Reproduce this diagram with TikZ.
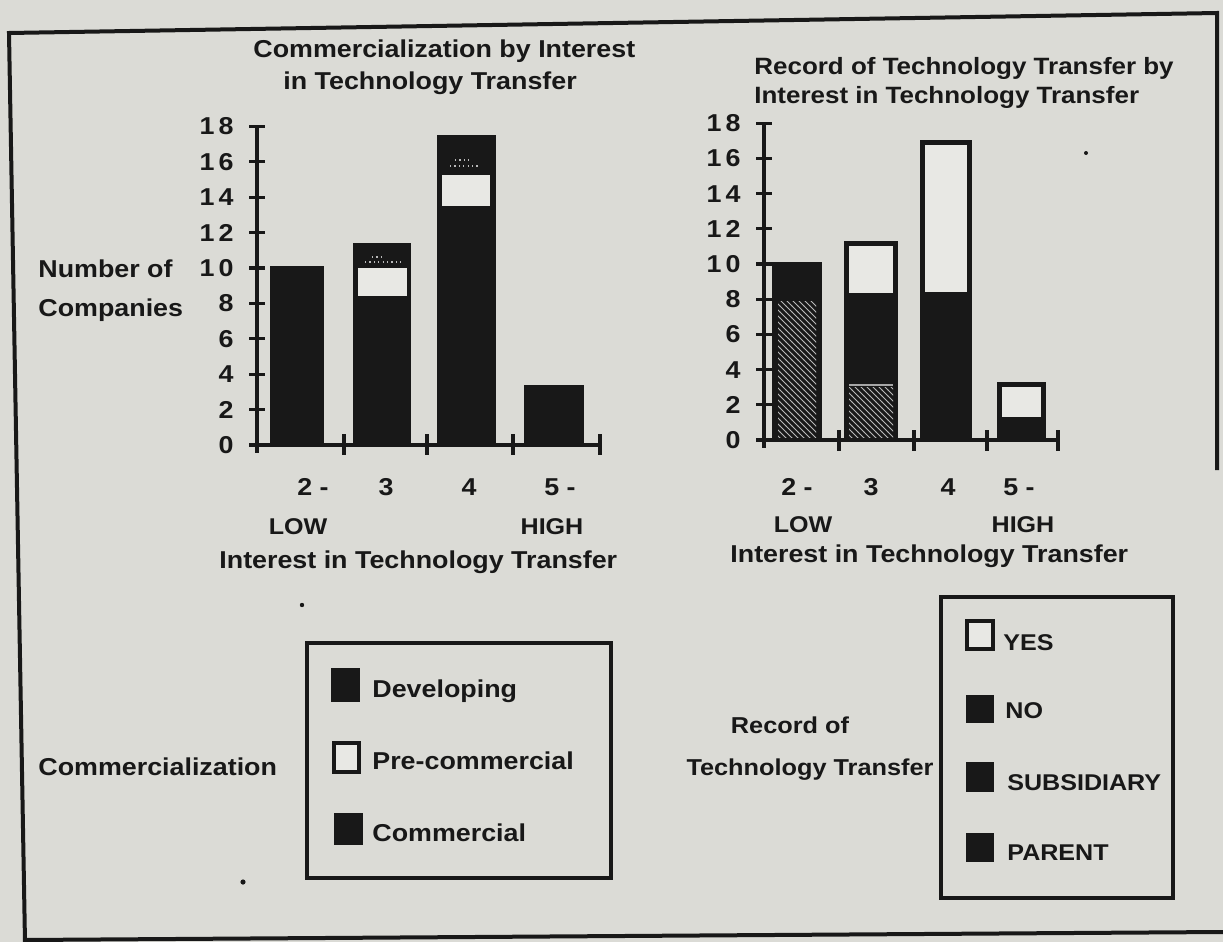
\documentclass[tikz,border=0pt]{standalone}
\usepackage{fontspec}
\setmainfont{Liberation Sans}[FakeStretch=1.1]
\usetikzlibrary{patterns}
\definecolor{paper}{RGB}{219,219,214}
\definecolor{ink}{RGB}{24,24,24}
\definecolor{blank}{RGB}{232,232,228}
\newcommand\twodig[2]{#1\kern2pt#2}
\begin{document}
\begin{tikzpicture}[x=0.5pt,y=-0.5pt,
  every node/.style={inner sep=0pt,text=ink,font=\fontsize{12.2}{14}\selectfont\bfseries},
  txt/.style={anchor=base west},
  ctxt/.style={anchor=base},
  rtxt/.style={anchor=base east},
  capsfont/.style={font=\fontsize{11.4}{13}\selectfont\bfseries},
  rtitlefont/.style={font=\fontsize{11.8}{13}\selectfont\bfseries},
  recfont/.style={font=\fontsize{11.5}{13}\selectfont\bfseries},
  axisline/.style={draw=ink,line width=2pt},
  tickline/.style={draw=ink,line width=1.6pt},
  barfill/.style={fill=ink},
  blankfill/.style={fill=blank},
  boxline/.style={draw=ink,line width=1.6pt},
  frameline/.style={draw=ink,line width=2pt},
  hatch/.style={pattern=north west lines,pattern color=gray!55},
  speck/.style={fill=ink}]
\fill[paper] (0,0) rectangle (1223,942);
\useasboundingbox (0,0) rectangle (1223,942);

% outer frame
\coordinate (ftl) at (9,33);
\coordinate (ftr) at (1217,13);
\coordinate (fre) at (1217,470);
\coordinate (fbl) at (25,942);
\coordinate (fbl2) at (25,940);
\coordinate (fbr) at (1223,932);
\draw[frameline] (fre) -- (ftr) -- (ftl) -- (fbl);
\draw[frameline] (fbl2) -- (fbr);

% ================= LEFT CHART =================
\node[txt] (lt1) at (253,57) {Commercialization by Interest};
\node[txt] (lt2) at (283,90) {in Technology Transfer};
\node[txt] (lnum) at (38,277) {Number of};
\node[txt] (lcomp) at (38,316) {Companies};

% bars
\fill[barfill] (270,266) rectangle (324,445);
\fill[barfill] (353,243) rectangle (411,445);
\fill[blankfill] (358,268) rectangle (407,296);
\draw[gray!55,line width=0.6pt,dash pattern=on 0.6pt off 1.6pt] (365,262) -- (403,262);
\draw[gray!55,line width=0.6pt,dash pattern=on 0.6pt off 1.6pt] (372,257) -- (382,257);
\fill[barfill] (437,135) rectangle (496,445);
\fill[blankfill] (442,175) rectangle (490,206);
\draw[gray!55,line width=0.6pt,dash pattern=on 0.6pt off 1.6pt] (450,166) -- (480,166);
\draw[gray!55,line width=0.6pt,dash pattern=on 0.6pt off 1.6pt] (455,160) -- (470,160);
\fill[barfill] (524,385) rectangle (584,445);

% axes
\draw[axisline] (257,126) -- (257,453);
\draw[axisline] (257,445) -- (600,445);
\foreach \v/\lab in {0/0,2/2,4/4,6/6,8/8,10/\twodig{1}{0},12/\twodig{1}{2},14/\twodig{1}{4},16/\twodig{1}{6},18/\twodig{1}{8}}{
  \pgfmathsetmacro\yy{445-17.7*\v}
  \draw[tickline] (249,\yy) -- (265,\yy);
  \node[rtxt] (ly\v) at (234,{\yy+8.5}) {\lab};
}
\foreach \xx in {344,427,513,600}{
  \draw[tickline] (\xx,434) -- (\xx,455);
}
\node[ctxt] (lx2) at (313,495) {2 -};
\node[ctxt] (lx3) at (386,495) {3};
\node[ctxt] (lx4) at (469,495) {4};
\node[ctxt] (lx5) at (560,495) {5 -};
\node[ctxt,capsfont] (llow) at (298,534) {LOW};
\node[ctxt,capsfont] (lhigh) at (552,534) {HIGH};
\node[txt] (lint) at (219,568) {Interest in Technology Transfer};

% ================= RIGHT CHART =================
\node[txt,rtitlefont] (rt1) at (754,75) {Record of Technology Transfer by};
\node[txt,rtitlefont] (rt2) at (754,104) {Interest in Technology Transfer};

% bar 2-
\fill[barfill] (772,262) rectangle (822,440);
\fill[hatch] (778,301) rectangle (816,437);
% bar 3
\fill[barfill] (844,241) rectangle (898,440);
\fill[blankfill] (849,246) rectangle (893,293);
\fill[hatch] (849,387) rectangle (893,437);
\draw[gray!70,line width=0.8pt] (849,385) -- (893,385);
% bar 4
\fill[barfill] (920,140) rectangle (972,440);
\fill[blankfill] (925,145) rectangle (967,292);
% bar 5-
\fill[barfill] (997,382) rectangle (1046,440);
\fill[blankfill] (1002,387) rectangle (1041,417);

% axes
\draw[axisline] (764,123) -- (764,448);
\draw[axisline] (764,440) -- (1058,440);
\foreach \v/\lab in {0/0,2/2,4/4,6/6,8/8,10/\twodig{1}{0},12/\twodig{1}{2},14/\twodig{1}{4},16/\twodig{1}{6},18/\twodig{1}{8}}{
  \pgfmathsetmacro\yy{440-17.6*\v}
  \draw[tickline] (756,\yy) -- (772,\yy);
  \node[rtxt] (ry\v) at (741,{\yy+8.5}) {\lab};
}
\foreach \xx in {839,914,987,1058}{
  \draw[tickline] (\xx,430) -- (\xx,451);
}
\node[ctxt] (rx2) at (797,495) {2 -};
\node[ctxt] (rx3) at (871,495) {3};
\node[ctxt] (rx4) at (948,495) {4};
\node[ctxt] (rx5) at (1019,495) {5 -};
\node[ctxt,capsfont] (rlow) at (803,532) {LOW};
\node[ctxt,capsfont] (rhigh) at (1023,532) {HIGH};
\node[txt] (rint) at (730,562) {Interest in Technology Transfer};

% ================= LEFT LEGEND =================
\node[txt] (lleg) at (38,775) {Commercialization};
\draw[boxline] (307,643) rectangle (611,878);
\fill[barfill] (331,668) rectangle (360,702);
\node[txt] (ldev) at (372,697) {Developing};
\draw[boxline,blankfill] (334,743) rectangle (359,772);
\node[txt] (lpre) at (372,769) {Pre-commercial};
\fill[barfill] (334,813) rectangle (363,845);
\node[txt] (lcom) at (372,841) {Commercial};

% ================= RIGHT LEGEND =================
\node[ctxt,recfont] (rrec1) at (790,733) {Record of};
\node[ctxt,recfont] (rrec2) at (810,775) {Technology Transfer};
\draw[boxline] (941,597) rectangle (1173,898);
\draw[boxline,blankfill] (967,621) rectangle (993,649);
\node[txt,capsfont] (ryes) at (1003,650) {YES};
\fill[barfill] (966,695) rectangle (994,723);
\node[txt,capsfont] (rno) at (1005,718) {NO};
\fill[barfill] (966,762) rectangle (994,792);
\node[txt,capsfont] (rsub) at (1007,790) {SUBSIDIARY};
\fill[barfill] (966,833) rectangle (994,862);
\node[txt,capsfont] (rpar) at (1007,860) {PARENT};

% specks
\fill[speck] (302,605) circle (2.2);
\fill[speck] (243,882) circle (2.6);
\fill[speck] (1086,153) circle (2);
\end{tikzpicture}
\end{document}
